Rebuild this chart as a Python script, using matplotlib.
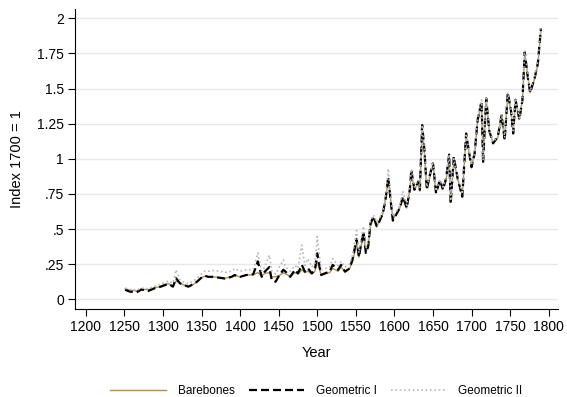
import matplotlib
matplotlib.use("Agg")
import matplotlib.pyplot as plt

plt.rcParams["font.family"] = ["Liberation Sans", "DejaVu Sans"]

years = [1251, 1257, 1266, 1272, 1281, 1290, 1296, 1302, 1307, 1313,
         1317, 1322, 1328, 1333, 1339, 1344, 1349, 1354, 1359, 1365,
         1374, 1380, 1389, 1393, 1400, 1408, 1417, 1423, 1428, 1432,
         1438, 1441, 1446, 1451, 1456, 1459, 1465, 1471, 1475, 1480,
         1484, 1488, 1493, 1497, 1500, 1505, 1510, 1516, 1520, 1527,
         1531, 1536, 1542, 1546, 1551, 1554, 1557, 1560, 1563, 1566,
         1569, 1573, 1577, 1581, 1585, 1589, 1592, 1596, 1598, 1603,
         1607, 1611, 1616, 1620, 1622, 1626, 1631, 1633, 1636, 1639,
         1642, 1646, 1650, 1654, 1659, 1663, 1667, 1671, 1673, 1677,
         1682, 1688, 1693, 1697, 1700, 1704, 1708, 1713, 1715, 1719,
         1723, 1728, 1734, 1739, 1743, 1747, 1751, 1754, 1757, 1762,
         1766, 1769, 1773, 1776, 1782, 1786, 1790]

barebones = [.075, .065, .060, .072, .068, .083, .090, .105, .112, .095,
             .130, .115, .100, .092, .105, .125, .150, .165, .160, .160,
             .155, .150, .160, .170, .160, .172, .175, .190, .165, .185,
             .190, .160, .160, .170, .190, .180, .165, .190, .180, .210,
             .190, .200, .180, .200, .270, .175, .180, .190, .220, .200,
             .230, .195, .220, .270, .400, .300, .380, .460, .340, .380,
             .520, .580, .520, .560, .610, .720, .860, .670, .570, .610,
             .650, .720, .650, .780, .900, .780, .830, .770, 1.20, 1.04,
             .790, .870, .960, .760, .840, .790, .850, 1.01, .690, .990,
             .860, .740, 1.16, 1.04, .950, 1.03, 1.27, 1.39, .980, 1.42,
             1.20, 1.11, 1.15, 1.30, 1.14, 1.45, 1.34, 1.19, 1.41, 1.28,
             1.42, 1.75, 1.58, 1.47, 1.57, 1.67, 1.92]

geometric_1 = [.068, .055, .050, .070, .060, .080, .088, .100, .110, .090,
               .150, .114, .100, .090, .107, .125, .150, .168, .160, .160,
               .153, .148, .160, .173, .160, .173, .178, .270, .160, .197,
               .230, .137, .125, .173, .210, .197, .160, .210, .185, .245,
               .197, .220, .185, .210, .327, .173, .185, .197, .245, .210,
               .245, .197, .220, .290, .430, .300, .400, .480, .330, .375,
               .540, .590, .520, .560, .610, .730, .870, .660, .560, .610,
               .650, .730, .650, .780, .920, .780, .840, .780, 1.24, 1.06,
               .780, .885, .970, .755, .850, .780, .860, 1.03, .680, 1.015,
               .860, .730, 1.18, 1.04, .940, 1.04, 1.28, 1.41, .970, 1.43,
               1.20, 1.11, 1.157, 1.31, 1.13, 1.47, 1.35, 1.18, 1.42, 1.28,
               1.42, 1.76, 1.58, 1.47, 1.58, 1.68, 1.93]

geometric_2 = [.080, .070, .065, .080, .075, .095, .105, .120, .130, .115,
               .210, .140, .120, .110, .130, .150, .175, .200, .200, .205,
               .200, .190, .200, .220, .200, .210, .210, .330, .200, .230,
               .315, .200, .180, .230, .280, .230, .200, .240, .220, .386,
               .240, .290, .230, .250, .446, .210, .220, .230, .290, .240,
               .270, .230, .250, .320, .490, .330, .430, .520, .360, .410,
               .560, .600, .550, .580, .630, .750, .930, .690, .590, .630,
               .670, .770, .670, .800, .930, .800, .850, .790, 1.24, 1.06,
               .800, .880, .980, .770, .850, .800, .860, 1.03, .700, 1.00,
               .870, .750, 1.18, 1.05, .960, 1.04, 1.29, 1.42, .990, 1.43,
               1.21, 1.12, 1.16, 1.32, 1.15, 1.47, 1.36, 1.20, 1.43, 1.29,
               1.43, 1.77, 1.60, 1.48, 1.59, 1.69, 1.93]

x_ticks = list(range(1200, 1801, 50))
y_ticks = [0, .25, .5, .75, 1, 1.25, 1.5, 1.75, 2]
y_labels = ["0", ".25", ".5", ".75", "1", "1.25", "1.5", "1.75", "2"]

fig = plt.figure(figsize=(5.67, 3.97), dpi=100)
ax = fig.add_axes([0.1323, 0.2209, 0.8517, 0.7557])

ax.plot(years, barebones, color="#a8915f", lw=1.0, label="Barebones", zorder=3)
ax.plot(years, geometric_1, color="black", lw=1.6, dashes=(3.6, 1.8),
        label="Geometric I", zorder=4)
ax.plot(years, geometric_2, color="#b8b8b8", lw=1.2, dashes=(1, 1.6),
        label="Geometric II", zorder=5)

ax.set_xlim(1186, 1812)
ax.set_ylim(-0.071, 2.064)
ax.set_xticks(x_ticks)
ax.set_yticks(y_ticks)
ax.set_yticklabels(y_labels)
ax.tick_params(axis="both", labelsize=10, length=5, width=0.8, pad=3,
               color="black")
ax.grid(axis="y", color="#e8e8e8", lw=1.0, zorder=0)
ax.set_axisbelow(True)
for side in ("top", "right"):
    ax.spines[side].set_visible(False)
for side in ("left", "bottom"):
    ax.spines[side].set_linewidth(0.8)

ax.set_xlabel("Year", fontsize=10.5, labelpad=8)
ax.set_ylabel("Index 1700 = 1", fontsize=10.5, labelpad=9)

# legend sits under the plot, centred on the axes rather than the figure
fig.legend(loc="center", bbox_to_anchor=(0.558, 0.014), ncol=3, frameon=False,
           fontsize=8.5, handlelength=4.7, handletextpad=1.0,
           columnspacing=1.2)

fig.savefig("out.png", dpi=100)
